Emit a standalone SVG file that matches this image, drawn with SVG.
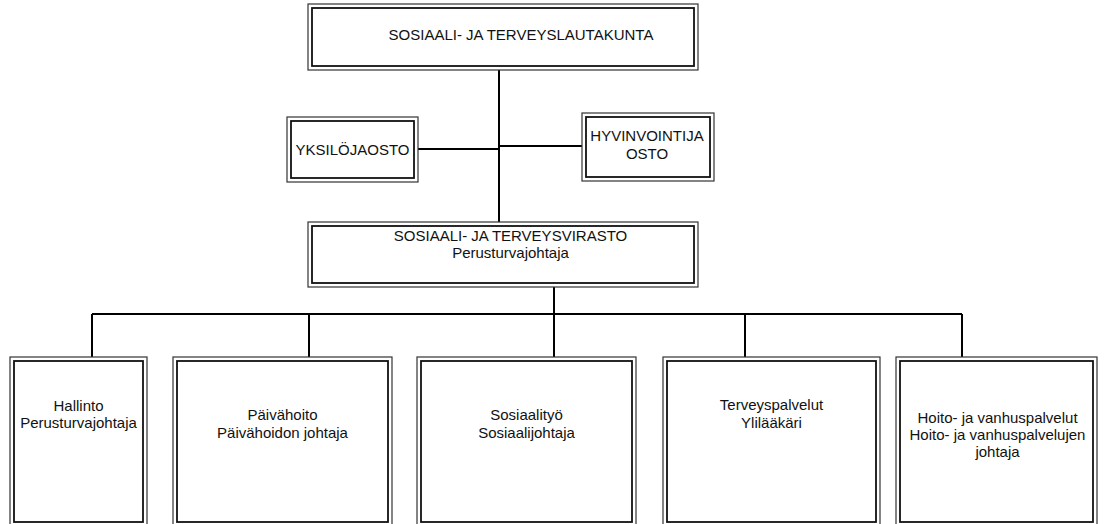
<svg xmlns="http://www.w3.org/2000/svg" width="1104" height="524" viewBox="0 0 1104 524">
<style>
.o{fill:#fff;stroke:#333;stroke-width:1.2}
.i{fill:none;stroke:#111;stroke-width:1.8}
.c{fill:none;stroke:#000;stroke-width:2}
text{font-family:"Liberation Sans",Arial,sans-serif;font-size:15px;fill:#111;text-anchor:middle}
</style>
<rect width="1104" height="524" fill="#fff"/>
<g id="connectors">
<path class="c" d="M499 70V222"/>
<path class="c" d="M418 149H499"/>
<path class="c" d="M499 146H582"/>
<path class="c" d="M554 287V314"/>
<path class="c" d="M92 314H962"/>
<path class="c" d="M92 314V357M309 314V357M554 314V357M745 314V357M962 314V357"/>
</g>
<g id="lautakunta">
<rect class="o" x="308" y="4" width="390" height="66"/>
<rect class="i" x="312" y="8" width="382" height="58"/>
<text x="521" y="40">SOSIAALI- JA TERVEYSLAUTAKUNTA</text>
</g>
<g id="yksilojaosto">
<rect class="o" x="287" y="117" width="131" height="65"/>
<rect class="i" x="291" y="121" width="123" height="57"/>
<text x="352.5" y="155">YKSILÖJAOSTO</text>
</g>
<g id="hyvinvointijaosto">
<rect class="o" x="582" y="113" width="132" height="68"/>
<rect class="i" x="586" y="117" width="124" height="60"/>
<text x="647" y="141">HYVINVOINTIJA</text>
<text x="647" y="159">OSTO</text>
</g>
<g id="virasto">
<rect class="o" x="308" y="222" width="390" height="65"/>
<rect class="i" x="312" y="226" width="382" height="57"/>
<text x="510.5" y="241">SOSIAALI- JA TERVEYSVIRASTO</text>
<text x="510.5" y="258">Perusturvajohtaja</text>
</g>
<g id="hallinto">
<rect class="o" x="10" y="357" width="137" height="170"/>
<rect class="i" x="14" y="361" width="129" height="161"/>
<text x="78.5" y="411">Hallinto</text>
<text x="78.5" y="428">Perusturvajohtaja</text>
</g>
<g id="paivahoito">
<rect class="o" x="173" y="357" width="219" height="170"/>
<rect class="i" x="177" y="361" width="211" height="161"/>
<text x="282.5" y="420">Päivähoito</text>
<text x="282.5" y="438">Päivähoidon johtaja</text>
</g>
<g id="sosiaalityo">
<rect class="o" x="417" y="357" width="219" height="170"/>
<rect class="i" x="421" y="361" width="211" height="161"/>
<text x="526.5" y="420">Sosiaalityö</text>
<text x="526.5" y="438">Sosiaalijohtaja</text>
</g>
<g id="terveyspalvelut">
<rect class="o" x="663" y="357" width="217" height="170"/>
<rect class="i" x="667" y="361" width="209" height="161"/>
<text x="771.5" y="410">Terveyspalvelut</text>
<text x="771.5" y="428">Ylilääkäri</text>
</g>
<g id="hoito">
<rect class="o" x="896" y="357" width="201" height="170"/>
<rect class="i" x="900" y="361" width="193" height="161"/>
<text x="997.5" y="423">Hoito- ja vanhuspalvelut</text>
<text x="997.5" y="440">Hoito- ja vanhuspalvelujen</text>
<text x="997.5" y="457">johtaja</text>
</g>
</svg>
